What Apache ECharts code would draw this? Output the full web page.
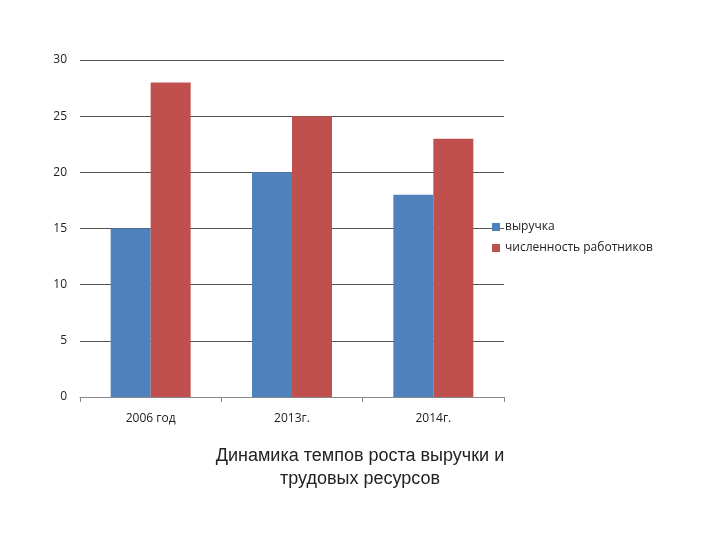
<!DOCTYPE html>
<html><head><meta charset="utf-8">
<script src="https://cdn.jsdelivr.net/npm/echarts@6/dist/echarts.min.js"></script>
<style>html,body{margin:0;padding:0;background:#fff}#c{width:720px;height:540px}</style>
</head><body><div id="c"></div>
<script>
const categories = ['2006 год', '2013г.', '2014г.'];
const revenue = [15, 20, 18];
const staff = [28, 25, 23];
const seriesNames = ['выручка', 'численность работников'];
const titleLines = ['Динамика темпов роста выручки и', 'трудовых ресурсов'];

const titleStyle = {fontFamily: 'Liberation Sans, Arial', fontSize: 18, fontWeight: 'normal', color: '#222'};
const chart = echarts.init(document.getElementById('c'));
chart.setOption({
  animation: false,
  backgroundColor: '#fff',
  title: [
    {text: titleLines[0], left: 'center', top: 447, padding: 0, textStyle: titleStyle},
    {text: titleLines[1], left: 'center', top: 470, padding: 0, textStyle: titleStyle}
  ],
  legend: {
    orient: 'vertical', left: 487, top: 216, itemWidth: 8, itemHeight: 8, itemGap: 9, icon: 'rect',
    textStyle: {fontFamily: 'Open Sans, Liberation Sans', fontSize: 12, color: '#222'},
    data: seriesNames
  },
  grid: {left: 80, right: 216, top: 60, bottom: 143},
  xAxis: {
    type: 'category', data: categories,
    axisLine: {lineStyle: {color: '#888', width: 1}},
    axisTick: {show: true, alignWithLabel: false, length: 5, lineStyle: {color: '#888'}},
    axisLabel: {fontFamily: 'Open Sans, Liberation Sans', fontSize: 12, color: '#222', margin: 16}
  },
  yAxis: {
    type: 'value', min: 0, max: 30, interval: 5,
    axisLine: {show: false}, axisTick: {show: false},
    splitLine: {lineStyle: {color: '#555', width: 1}},
    axisLabel: {fontFamily: 'Open Sans, Liberation Sans', fontSize: 12, color: '#222', margin: 13}
  },
  series: [
    {name: seriesNames[0], type: 'bar', data: revenue, barWidth: 40, barGap: '0%', itemStyle: {color: '#4F81BD'}},
    {name: seriesNames[1], type: 'bar', data: staff, barWidth: 40, barGap: '0%', itemStyle: {color: '#C0504D'}}
  ]
});
</script></body></html>
